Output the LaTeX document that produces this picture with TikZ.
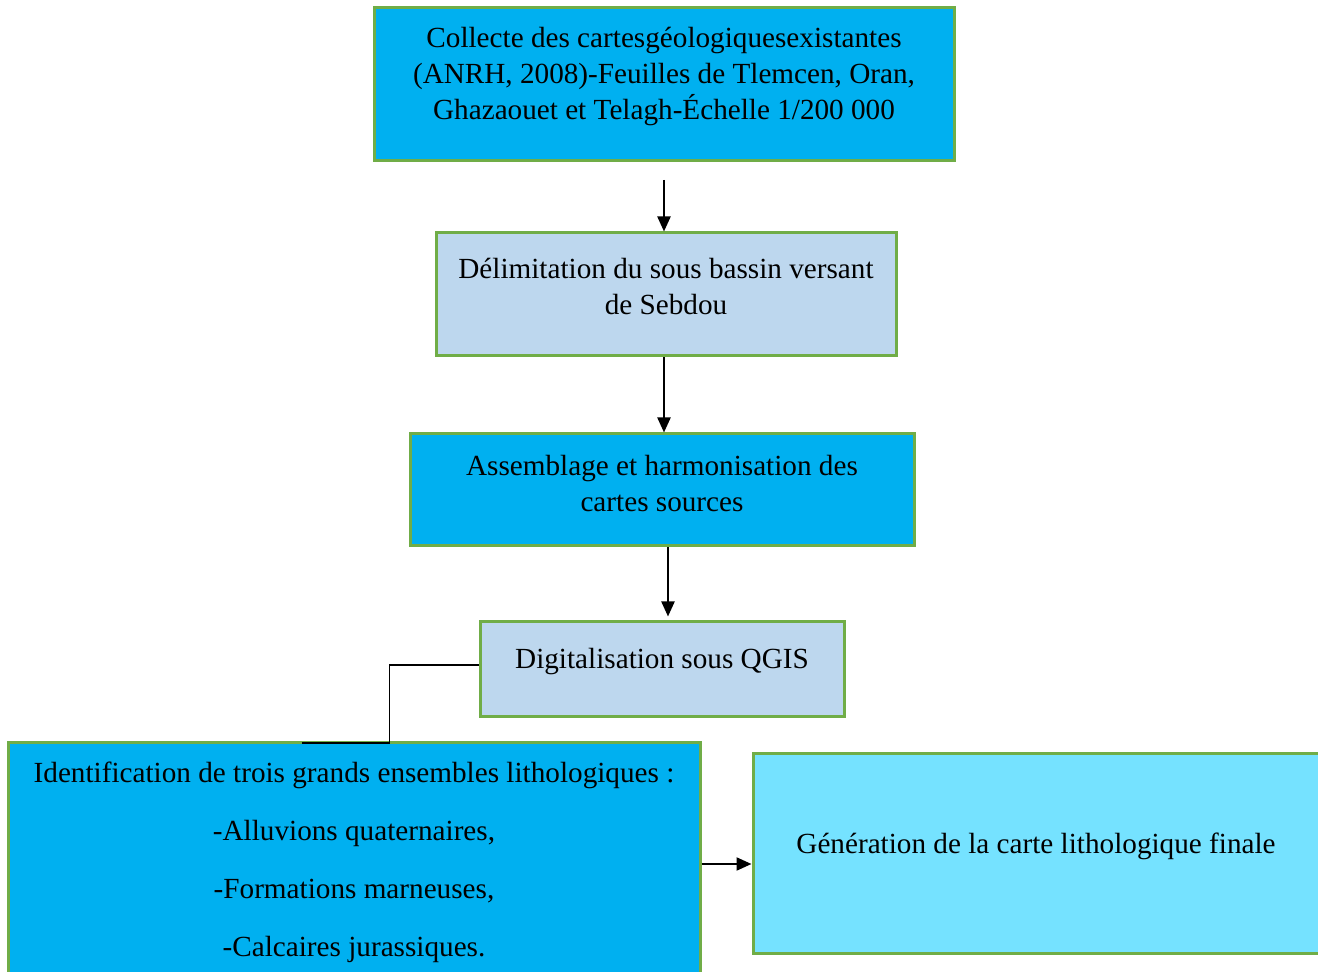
\documentclass[tikz,border=0pt]{standalone}
\usepackage{fontspec}
\setmainfont{Liberation Serif}
\usetikzlibrary{arrows.meta}
\definecolor{cyanbox}{RGB}{0,176,240}
\definecolor{palebox}{RGB}{189,215,238}
\definecolor{lightcyan}{RGB}{117,226,255}
\definecolor{greenline}{RGB}{112,173,71}

\begin{document}
\begin{tikzpicture}
    [x=0.5pt,y=-0.5pt,
    box/.style={draw=greenline,line width=1.5pt,inner sep=0pt},
    txt/.style={align=center,font=\fontsize{14.6}{18}\selectfont,inner sep=0pt},
    arr/.style={-{Triangle[length=7.5pt,width=6.5pt]},line width=1.1pt}]
    \useasboundingbox (0,0) rectangle (1318,972);
    %boxes
    \node[box,fill=cyanbox,minimum width=290pt,minimum height=76.5pt] (collecte) at (664,84.5) {};
    \node[box,fill=palebox,minimum width=230pt,minimum height=61.5pt] (delim) at (666,294.5) {};
    \node[box,fill=cyanbox,minimum width=252pt,minimum height=56pt] (assem) at (662,490) {};
    \node[box,fill=palebox,minimum width=182pt,minimum height=47.5pt] (digit) at (662,669.5) {};
    \node[box,fill=cyanbox,minimum width=346pt,minimum height=121pt] (ident) at (354,864) {};
    \node[box,fill=lightcyan,minimum width=288.5pt,minimum height=99.5pt] (final) at (1041.5,853.5) {};
    %texts
    \node[txt] (tcollecte) at (664,77) {Collecte des cartesgéologiquesexistantes\\(ANRH, 2008)-Feuilles de Tlemcen, Oran,\\Ghazaouet et Telagh-Échelle 1/200 000};
    \node[txt] (tdelim) at (666,286) {Délimitation du sous bassin versant\\de Sebdou};
    \node[txt] (tassem) at (662,484) {Assemblage et harmonisation des\\cartes sources};
    \node[txt] (tdigit) at (662,662) {Digitalisation sous QGIS};
    \node[txt,font=\fontsize{14.6}{29}\selectfont] (tident) at (354,862) {Identification de trois grands ensembles lithologiques :\\-Alluvions quaternaires,\\-Formations marneuses,\\-Calcaires jurassiques.};
    \node[txt] (tfinal) at (1036,846) {Génération de la carte lithologique finale};
    %connectors
    \coordinate (a1) at (664,180);
    \coordinate (c1) at (302,743);
    \draw[arr] (a1) -- (a1 |- delim.north);
    \draw[arr] ([xshift=-1pt]delim.south) -- ([xshift=-1pt]delim.south |- assem.north);
    \draw[arr] ([xshift=3pt]assem.south) -- ([xshift=3pt,yshift=2pt]assem.south |- digit.north);
    \draw[line width=0.75pt] ([yshift=2.25pt]digit.west) -- ++(-89,0) |- (c1);
    \draw[arr] (ident.east) -- (ident.east -| final.west);
\end{tikzpicture}
\end{document}
